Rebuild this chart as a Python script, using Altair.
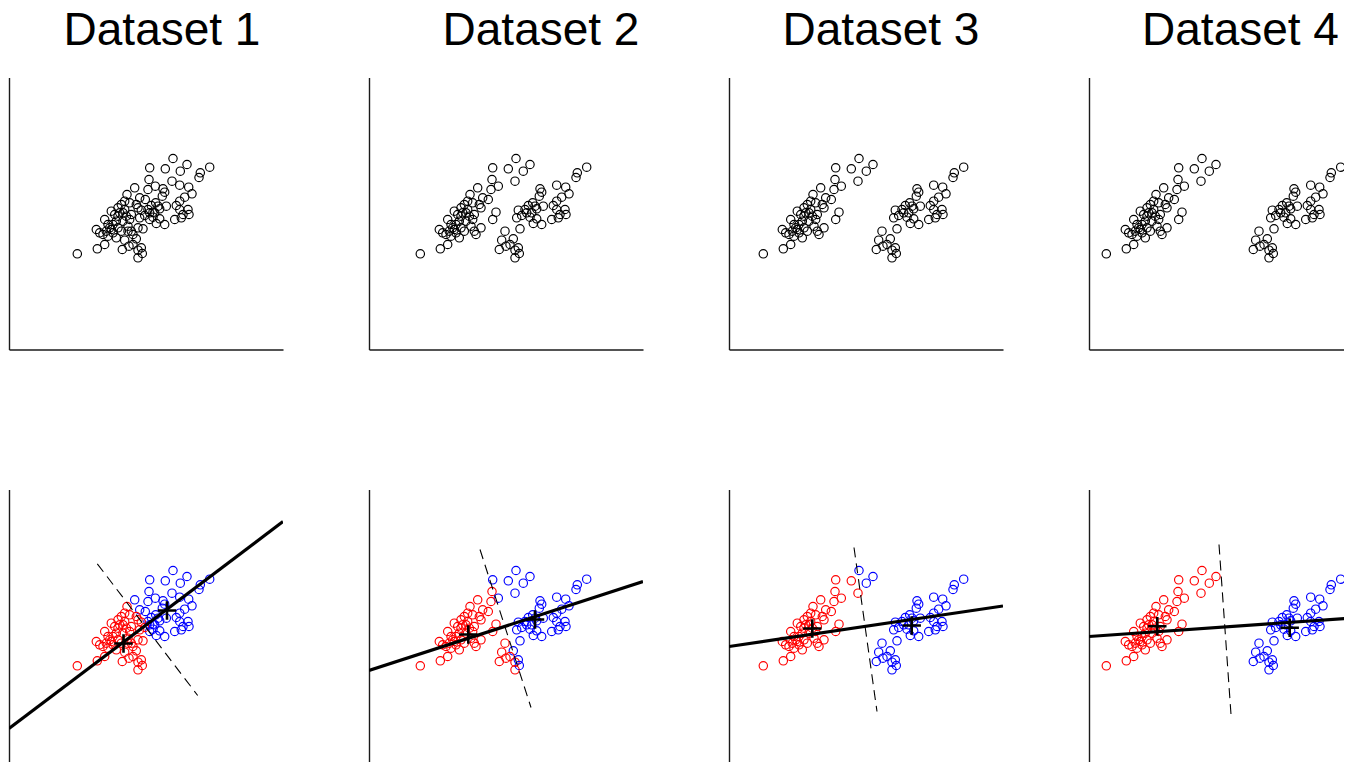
import altair as alt
import pandas as pd

# ---- data (units: roughly one unit per screen pixel, origin at the axes corner) ----
# left-hand group as it sits in Dataset 1
A_x = [164.0, 178.0, 171.3, 156.3, 140.7, 163.0, 140.0, 146.3, 139.0, 125.7,
       136.3, 130.7, 118.0, 115.7, 120.7, 112.3, 144.0, 140.7, 102.3, 105.7,
       127.3, 129.0, 110.7, 117.3, 122.3, 95.7, 99.0, 107.3, 114.0, 120.7,
       129.0, 122.3, 124.0, 87.3, 90.7, 102.3, 109.0, 112.3, 94.0, 99.0,
       107.3, 104.0, 95.7, 88.3, 68.3, 100.7, 109.0, 115.7, 119.0,
       109.0, 104.0, 97.3, 114.0]
A_y = [191.0, 185.0, 178.3, 180.7, 181.7, 168.3, 170.0, 163.3, 160.0, 161.7,
       150.0, 151.7, 155.0, 148.3, 146.7, 145.0, 137.3, 130.0, 138.3, 135.0,
       145.0, 141.7, 136.7, 133.3, 135.0, 130.0, 125.0, 128.3, 128.3, 130.0,
       121.7, 118.3, 115.0, 120.0, 116.7, 120.0, 121.7, 118.3, 115.0, 113.3,
       111.7, 116.7, 105.0, 100.7, 95.7, 121.7, 133.3, 140.0, 123.3,
       141.7, 125.0, 118.3, 136.7]
# right-hand group as it sits in Dataset 1
B_x = [200.7, 191.3, 190.0, 170.7, 179.7, 183.0, 175.7, 170.7, 154.0, 155.7,
       153.3, 146.7, 142.3, 139.0, 132.3, 150.7, 145.7, 157.3, 167.3, 170.7,
       179.0, 180.0, 174.0, 165.7, 172.3, 130.7, 135.7, 144.0, 147.3, 155.7,
       150.7, 134.0, 119.0, 127.3, 115.7, 120.0, 113.3, 124.0, 129.0, 133.3,
       129.0, 132.3, 149.0, 140.7]
B_y = [182.3, 176.7, 172.0, 164.3, 162.3, 155.7, 152.3, 148.3, 160.7, 157.3,
       153.3, 146.7, 144.0, 140.0, 139.3, 140.7, 136.7, 143.3, 144.0, 140.0,
       140.0, 135.0, 135.0, 130.0, 131.7, 131.7, 134.0, 132.3, 126.0, 125.0,
       130.7, 120.7, 118.3, 110.7, 109.3, 103.3, 100.0, 105.0, 99.3, 96.0,
       91.7, 101.7, 143.3, 136.7]
# horizontal displacement of each group in each dataset
shift_A = [0, -17, -34, -51]
shift_B = [0, 17, 34, 51]

titles = ["Dataset 1", "Dataset 2", "Dataset 3", "Dataset 4"]
# principal line (x0, y0, x1, y1)
main_lines = [(0, 33, 274, 240), (0, 91, 274, 180), (0, 115, 274, 155.5), (0, 125, 274, 144.3)]
# dashed split line (x0, y0, x1, y1)
split_lines = [(88.3, 197.7, 188.7, 66), (111, 212, 162, 54), (125, 214, 148, 50), (130, 217, 142, 47)]
# group centres (red, blue)
cent_red = [(114.5, 118), (99.3, 127), (83.3, 133), (68.3, 135.3)]
cent_blue = [(158, 151), (166, 142), (182.7, 136), (200.7, 133.7)]

# ---- layout ----
W = [274, 274, 274, 255]
H = 272
title_dx = [16, 35, 15, 24]

axis_on = alt.Axis(domain=True, domainColor="#1a1a1a", domainWidth=1.4, ticks=False,
                   labels=False, title=None, grid=False)
yscale = alt.Scale(domain=[0, H], nice=False, zero=False)


def points_df(k):
    x0, y0, x1, y1 = split_lines[k]
    rx, ry = cent_red[k]
    side_red = (x1 - x0) * (ry - y0) - (y1 - y0) * (rx - x0)
    recs = []
    for xs, ys, sh in ((A_x, A_y, shift_A[k]), (B_x, B_y, shift_B[k])):
        for x, y in zip(xs, ys):
            px = x + sh
            s = (x1 - x0) * (y - y0) - (y1 - y0) * (px - x0)
            recs.append({"x": px, "y": y, "cls": "red" if s * side_red > 0 else "blue"})
    return pd.DataFrame(recs)


tops, bottoms = [], []
for k in range(4):
    xscale = alt.Scale(domain=[0, W[k]], nice=False, zero=False)
    df = points_df(k)
    top = alt.Chart(df).mark_point(shape="circle", filled=False, size=70, strokeWidth=1.15,
                                   color="black", clip=True, opacity=1).encode(
        x=alt.X("x:Q", scale=xscale, axis=axis_on),
        y=alt.Y("y:Q", scale=yscale, axis=axis_on),
    ).properties(
        width=W[k], height=H,
        title=alt.TitleParams(titles[k], font="Liberation Sans", fontSize=46, fontWeight="normal",
                              color="black", anchor="middle", dx=title_dx[k], offset=-13.5,
                              baseline="alphabetic"),
    )
    tops.append(top)

    pts = alt.Chart(df).mark_point(shape="circle", filled=False, size=70, strokeWidth=1.15,
                                   clip=True, opacity=1).encode(
        x=alt.X("x:Q", scale=xscale, axis=None),
        y=alt.Y("y:Q", scale=yscale, axis=axis_on),
        color=alt.Color("cls:N", scale=alt.Scale(domain=["red", "blue"], range=["#ff0000", "#0000ff"]),
                        legend=None),
    )
    ml = main_lines[k]
    main_df = pd.DataFrame([{"x0": ml[0], "y0": ml[1], "x1": ml[2], "y1": ml[3]}])
    main = alt.Chart(main_df).mark_rule(color="black", strokeWidth=3.2, clip=True).encode(
        x=alt.X("x0:Q", scale=xscale, axis=None), y=alt.Y("y0:Q", scale=yscale),
        x2="x1:Q", y2="y1:Q")
    sl = split_lines[k]
    split_df = pd.DataFrame([{"x0": sl[0], "y0": sl[1], "x1": sl[2], "y1": sl[3]}])
    split = alt.Chart(split_df).mark_rule(color="black", strokeWidth=1.1, strokeDash=[10, 6],
                                          clip=True).encode(
        x=alt.X("x0:Q", scale=xscale, axis=None), y=alt.Y("y0:Q", scale=yscale),
        x2="x1:Q", y2="y1:Q")
    cent_df = pd.DataFrame([{"cx": cent_red[k][0], "cy": cent_red[k][1]},
                            {"cx": cent_blue[k][0], "cy": cent_blue[k][1]}])
    cent = alt.Chart(cent_df).mark_point(shape="M-1,0L1,0M0,-1L0,1", size=340, strokeWidth=2.6,
                                         color="black", filled=False, opacity=1, clip=True).encode(
        x=alt.X("cx:Q", scale=xscale, axis=None), y=alt.Y("cy:Q", scale=yscale))
    bottom = alt.layer(pts, main, split, cent).properties(width=W[k], height=H)
    bottoms.append(bottom)

chart = alt.vconcat(
    alt.hconcat(*tops, spacing=86, bounds="flush"),
    alt.hconcat(*bottoms, spacing=86, bounds="flush"),
    spacing=140,
).properties(
    padding={"left": 9, "top": 7.5, "right": 0, "bottom": 0},
    background="white",
).configure_view(stroke=None)

chart.save("out.html", embed_options={"renderer": "svg", "actions": False})
